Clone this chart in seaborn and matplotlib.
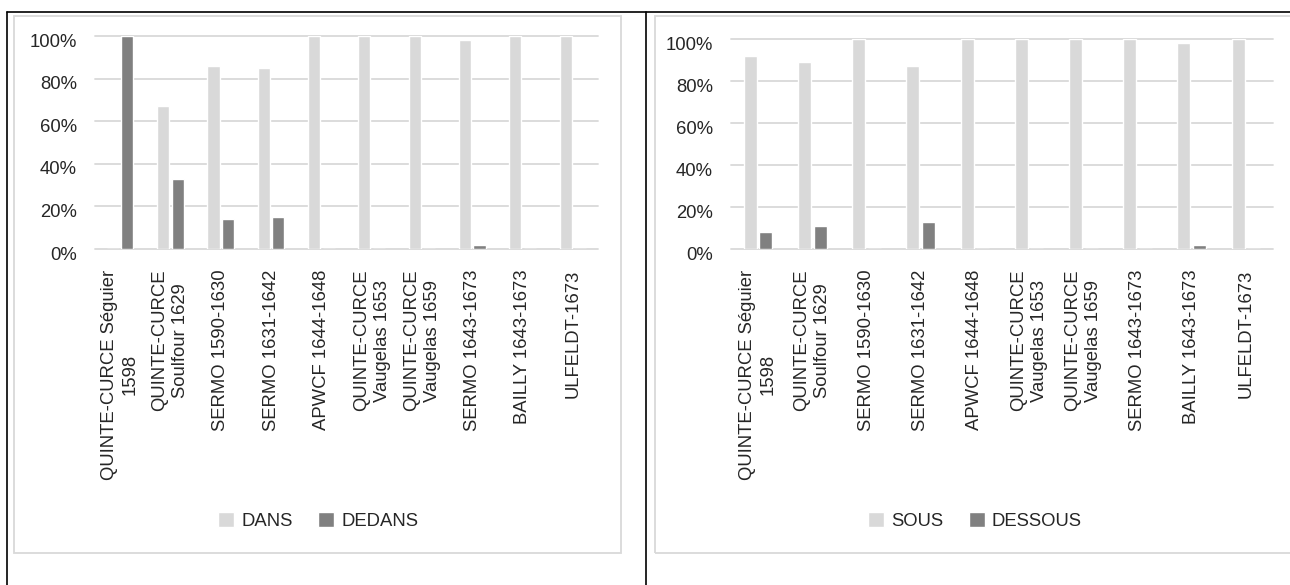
import numpy as np
import pandas as pd
import seaborn as sns
import matplotlib.pyplot as plt
from matplotlib.lines import Line2D
from matplotlib.patches import Rectangle
from matplotlib.ticker import FuncFormatter
from matplotlib.transforms import ScaledTranslation

# textes du corpus (memes colonnes pour les deux graphiques)
textes = ['QUINTE-CURCE Séguier\n1598', 'QUINTE-CURCE\nSoulfour 1629',
          'SERMO 1590-1630', 'SERMO 1631-1642', 'APWCF 1644-1648',
          'QUINTE-CURCE\nVaugelas 1653', 'QUINTE-CURCE\nVaugelas 1659',
          'SERMO 1643-1673', 'BAILLY 1643-1673', 'ULFELDT-1673']

# pourcentages
dans = [0, 67, 86, 85, 100, 100, 100, 98, 100, 100]
dedans = [100, 33, 14, 15, 0, 0, 0, 2, 0, 0]
sous = [92, 89, 100, 87, 100, 100, 100, 100, 98, 100]
dessous = [8, 11, 0, 13, 0, 0, 0, 0, 2, 0]

clair = '#D9D9D9'
fonce = '#808080'

sns.set_style('white')
plt.rcParams['font.family'] = ['Liberation Sans', 'DejaVu Sans']
fs = 13.3

W, H = 1290, 585
fig = plt.figure(figsize=(W / 100, H / 100), dpi=100)


def fx(x):
    return x / W


def fy(y):
    return 1 - y / H


# cadre du tableau
for (x0, y0, x1, y1) in [(7, 12, W, 12), (7, 12, 7, H), (646, 12, 646, H)]:
    fig.add_artist(Line2D([fx(x0), fx(x1)], [fy(y0), fy(y1)], color='black',
                          lw=1.2, transform=fig.transFigure))
# bordures des graphiques
for (x0, x1) in [(14, 621), (655, 1295)]:
    fig.add_artist(Rectangle((fx(x0), fy(553)), fx(x1) - fx(x0), fy(16) - fy(553),
                             fill=False, edgecolor=clair, lw=1.3,
                             transform=fig.transFigure))


def graphique(pos, s1, s2, n1, n2, leg_x):
    ax = fig.add_axes(pos)
    df = pd.DataFrame({'texte': textes * 2,
                       'pct': s1 + s2,
                       'forme': [n1] * len(textes) + [n2] * len(textes)})
    sns.barplot(data=df, x='texte', y='pct', hue='forme', order=textes,
                hue_order=[n1, n2], palette=[clair, fonce], width=0.58, gap=0.17,
                saturation=1, ax=ax)
    ax.set_ylim(0, 100)
    ax.set_yticks(np.arange(0, 101, 20))
    ax.yaxis.set_major_formatter(FuncFormatter(lambda v, p: '%d%%' % v))
    ax.grid(axis='y', color=clair, lw=1.3)
    ax.set_axisbelow(True)
    for sp in ax.spines.values():
        sp.set_visible(False)
    ax.set_xlabel('')
    ax.set_ylabel('')
    ax.tick_params(axis='y', length=0, pad=13, labelsize=fs)
    ax.tick_params(axis='x', length=0, pad=15, labelsize=fs)
    ax.set_xticks(range(len(textes)))
    ax.set_xticklabels(textes, rotation=90, ha='center', va='top',
                       multialignment='center', linespacing=1.3)
    # etiquettes en % un peu sous les lignes, comme dans Excel
    decal = ScaledTranslation(0, -3 / 72, fig.dpi_scale_trans)
    for lab in ax.get_yticklabels():
        lab.set_transform(lab.get_transform() + decal)
    for gl in ax.get_ygridlines():
        gl.set_clip_on(False)
    sns.move_legend(ax, 'center', bbox_to_anchor=(fx(leg_x), fy(521)),
                    bbox_transform=fig.transFigure, ncol=2, frameon=False,
                    title=None, fontsize=fs, handlelength=0.87, handleheight=0.9,
                    handletextpad=0.4, columnspacing=1.35)
    return ax


graphique([fx(95), fy(249), fx(598) - fx(95), fy(36) - fy(249)],
          dans, dedans, 'DANS', 'DEDANS', 318)
graphique([fx(731), fy(249), fx(1273) - fx(731), fy(39) - fy(249)],
          sous, dessous, 'SOUS', 'DESSOUS', 975)

plt.savefig('out.png', dpi=100)
